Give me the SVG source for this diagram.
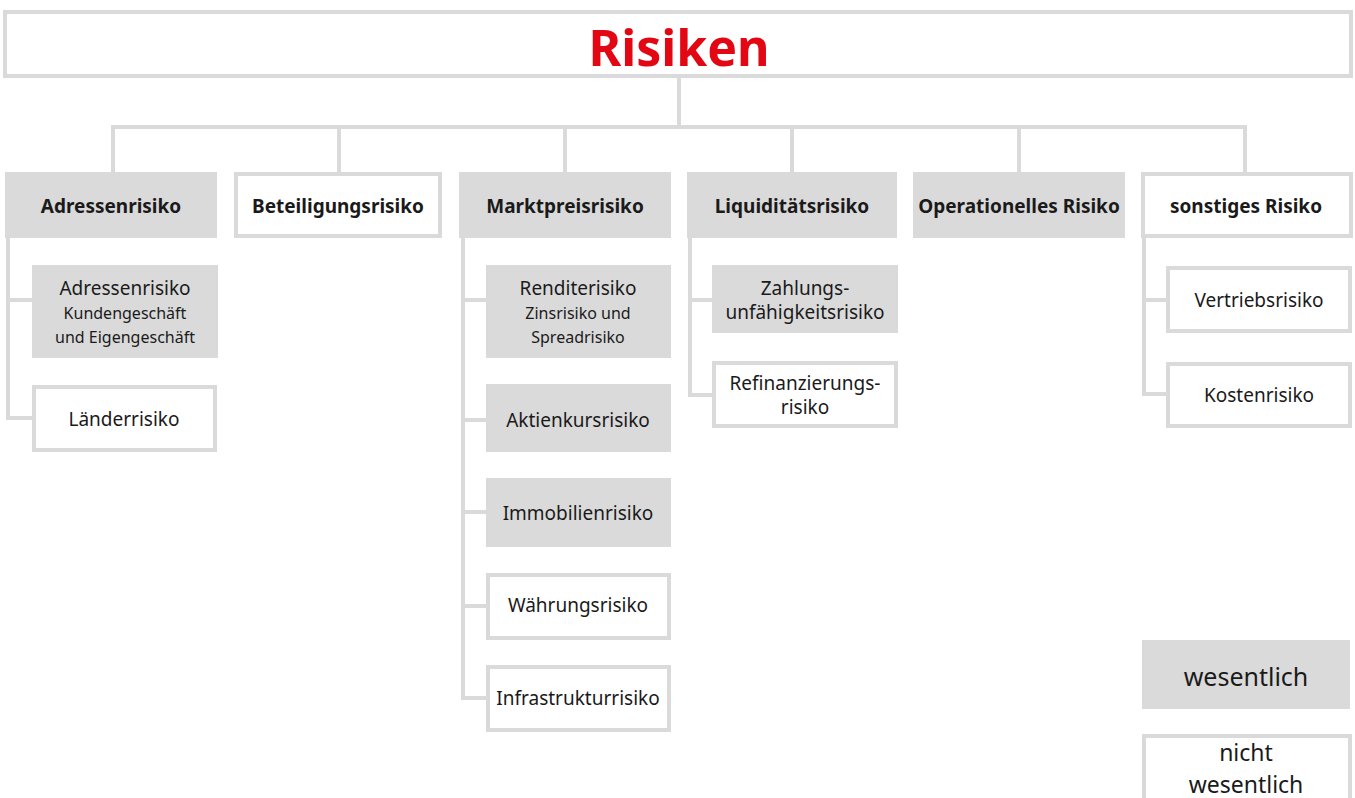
<svg xmlns="http://www.w3.org/2000/svg" width="1355" height="798" viewBox="0 0 1355 798">
<style>
.g{fill:#dadada}
.w{fill:#fff;stroke:#dadada;stroke-width:4}
.c{fill:none;stroke:#dadada;stroke-width:4}
text{font-family:"Noto Sans","Open Sans","Liberation Sans",sans-serif;fill:#1a1a1a;text-anchor:middle}
.h{font-size:19px;font-weight:bold}
.t{font-size:19px}
.s{font-size:16px}
.l{font-size:25px}
</style>
<rect width="1355" height="798" fill="#fff"/>
<g id="connectors">
<path class="c" d="M679 77V127M113 172V127H1245V172M339 127V172M565 127V172M792 127V172M1019 127V172"/>
<path class="c" d="M8 238V418H32M8 300H32"/>
<path class="c" d="M463 238V698H486M463 300H486M463 420H486M463 512H486M463 606H486"/>
<path class="c" d="M690 238V395H712M690 300H712"/>
<path class="c" d="M1144 238V394H1166M1144 300H1166"/>
</g>
<g id="root"><rect class="w" x="5" y="12" width="1346" height="64"/><text x="679" y="66" style="font-size:50px;font-weight:bold;fill:#e30613">Risiken</text></g>
<g id="adressenrisiko"><rect class="g" x="5" y="172" width="212" height="66"/><text class="h" x="111" y="213">Adressenrisiko</text></g>
<g id="beteiligungsrisiko"><rect class="w" x="236" y="174" width="204" height="62"/><text class="h" x="338" y="213">Beteiligungsrisiko</text></g>
<g id="marktpreisrisiko"><rect class="g" x="459" y="172" width="212" height="66"/><text class="h" x="565" y="213">Marktpreisrisiko</text></g>
<g id="liquiditaetsrisiko"><rect class="g" x="687" y="172" width="210" height="66"/><text class="h" x="792" y="213">Liquiditätsrisiko</text></g>
<g id="operationelles"><rect class="g" x="913" y="172" width="212" height="66"/><text class="h" x="1019" y="213">Operationelles Risiko</text></g>
<g id="sonstiges"><rect class="w" x="1143" y="174" width="208" height="62"/><text class="h" x="1246" y="213">sonstiges Risiko</text></g>
<g id="adressen-kunden"><rect class="g" x="32" y="265" width="186" height="93"/><text class="t" x="125" y="295">Adressenrisiko</text><text class="s" x="125" y="319">Kundengeschäft</text><text class="s" x="125" y="343">und Eigengeschäft</text></g>
<g id="laenderrisiko"><rect class="w" x="34" y="387" width="181" height="63"/><text class="t" x="124" y="426">Länderrisiko</text></g>
<g id="renditerisiko"><rect class="g" x="486" y="265" width="185" height="93"/><text class="t" x="578" y="295">Renditerisiko</text><text class="s" x="578" y="319">Zinsrisiko und</text><text class="s" x="578" y="343">Spreadrisiko</text></g>
<g id="aktienkursrisiko"><rect class="g" x="486" y="384" width="185" height="68"/><text class="t" x="578" y="427">Aktienkursrisiko</text></g>
<g id="immobilienrisiko"><rect class="g" x="486" y="478" width="185" height="69"/><text class="t" x="578" y="520">Immobilienrisiko</text></g>
<g id="waehrungsrisiko"><rect class="w" x="488" y="575" width="181" height="63"/><text class="t" x="578" y="612">Währungsrisiko</text></g>
<g id="infrastrukturrisiko"><rect class="w" x="488" y="667" width="181" height="63"/><text class="t" x="578" y="705">Infrastrukturrisiko</text></g>
<g id="zahlungsunfaehigkeit"><rect class="g" x="712" y="265" width="186" height="68"/><text class="t" x="805" y="295">Zahlungs-</text><text class="t" x="805" y="319">unfähigkeitsrisiko</text></g>
<g id="refinanzierung"><rect class="w" x="714" y="363" width="182" height="63"/><text class="t" x="805" y="390">Refinanzierungs-</text><text class="t" x="805" y="414">risiko</text></g>
<g id="vertriebsrisiko"><rect class="w" x="1168" y="268" width="182" height="63"/><text class="t" x="1259" y="307">Vertriebsrisiko</text></g>
<g id="kostenrisiko"><rect class="w" x="1168" y="364" width="182" height="62"/><text class="t" x="1259" y="402">Kostenrisiko</text></g>
<g id="legend-wesentlich"><rect class="g" x="1142" y="640" width="208" height="69"/><text class="l" x="1246" y="686">wesentlich</text></g>
<g id="legend-nicht"><rect class="w" x="1144" y="736" width="206" height="70"/><text x="1246" y="761" style="font-size:23px">nicht</text><text x="1246" y="793" style="font-size:23px">wesentlich</text></g>
</svg>
